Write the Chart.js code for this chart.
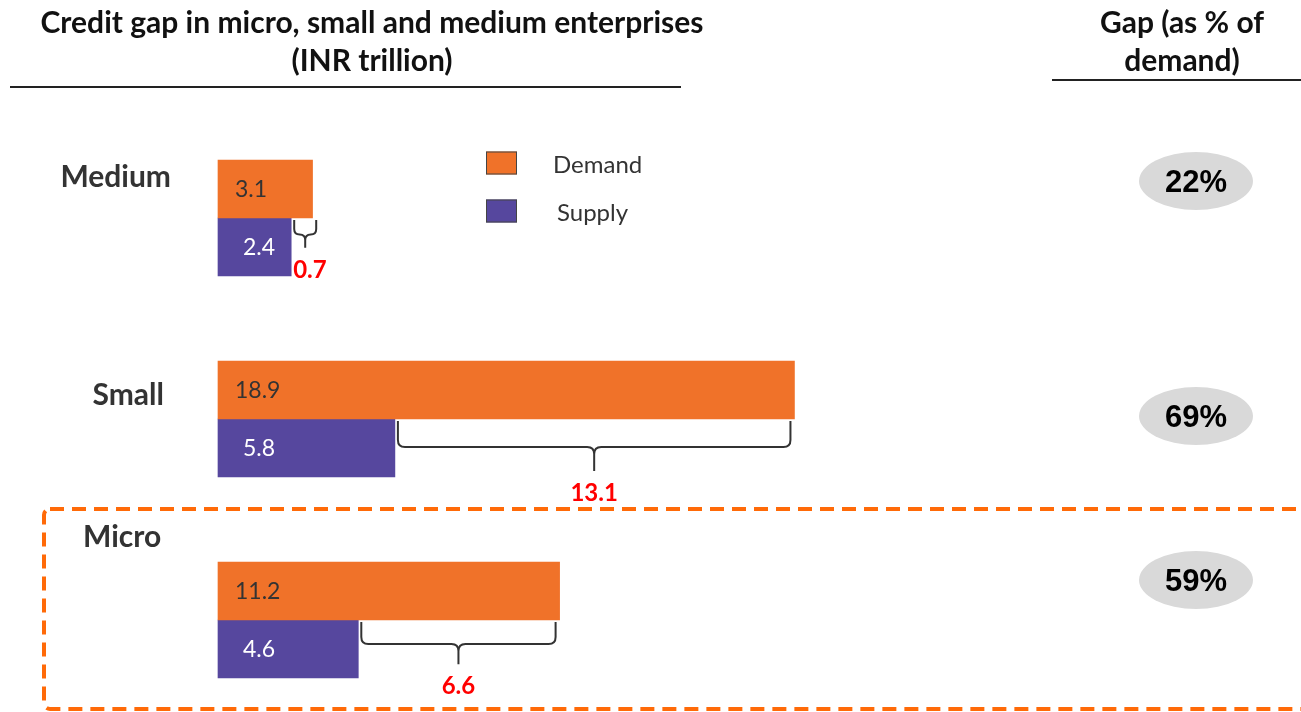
<!DOCTYPE html>
<html>
<head>
<meta charset="utf-8">
<script src="https://cdn.jsdelivr.net/npm/chart.js@4.4.0/dist/chart.umd.min.js"></script>
<style>
    body { margin: 0; background: #fff; }
    #wrap { position: relative; width: 1301px; height: 712px; }
</style>
</head>
<body>
<div id="wrap"><canvas id="grafico"></canvas></div>
<script>
    // data (INR trillion)
    var categories = ['Medium', 'Small', 'Micro'];
    var demand = [3.1, 18.9, 11.2];
    var supply = [2.4, 5.8, 4.6];
    var gap = [0.7, 13.1, 6.6];
    var gapPct = ['22%', '69%', '59%'];
    var seriesNames = ['Demand', 'Supply'];

    // layout bits that are not data
    var orange = '#F07229';
    var purple = '#56479E';
    var catLabelPos = [
        { x: 171, y: 177, align: 'right' },
        { x: 164, y: 395, align: 'right' },
        { x: 83, y: 537, align: 'left' }
    ];
    var pctY = [181, 416, 580];

    function brace(ctx, x1, x2, top, depth) {
        var cx = (x1 + x2) / 2;
        var mid = top + depth * 0.52;
        var tip = top + depth;
        var r = Math.min(7, (x2 - x1) / 4);
        ctx.beginPath();
        ctx.moveTo(x1, top);
        ctx.lineTo(x1, mid - r);
        ctx.quadraticCurveTo(x1, mid, x1 + r, mid);
        ctx.lineTo(cx - r, mid);
        ctx.quadraticCurveTo(cx, mid, cx, mid + r);
        ctx.lineTo(cx, tip);
        ctx.moveTo(cx, mid + r);
        ctx.quadraticCurveTo(cx, mid, cx + r, mid);
        ctx.lineTo(x2 - r, mid);
        ctx.quadraticCurveTo(x2, mid, x2, mid - r);
        ctx.lineTo(x2, top);
        ctx.stroke();
        return tip;
    }

    var extras = {
        id: 'extras',
        afterDatasetsDraw: function (chart) {
            var ctx = chart.ctx;
            var xs = chart.scales.x;
            var mDem = chart.getDatasetMeta(0);
            var mSup = chart.getDatasetMeta(1);
            ctx.save();

            // headers
            ctx.fillStyle = '#111';
            ctx.textAlign = 'center';
            ctx.textBaseline = 'middle';
            ctx.font = 'bold 30px Lato';
            ctx.fillText('Credit gap in micro, small and medium enterprises', 372, 23);
            ctx.fillText('(INR trillion)', 372, 61);
            ctx.fillText('Gap (as % of', 1182, 23);
            ctx.fillText('demand)', 1182, 61);
            ctx.strokeStyle = '#222';
            ctx.lineWidth = 2;
            ctx.beginPath();
            ctx.moveTo(10, 87); ctx.lineTo(681, 87);
            ctx.moveTo(1052, 80); ctx.lineTo(1301, 80);
            ctx.stroke();

            // category names
            ctx.fillStyle = '#333';
            ctx.font = 'bold 30px Lato';
            categories.forEach(function (c, i) {
                ctx.textAlign = catLabelPos[i].align;
                ctx.fillText(c, catLabelPos[i].x, catLabelPos[i].y);
            });

            // values inside bars
            ctx.font = '23px Lato';
            ctx.textAlign = 'left';
            mDem.data.forEach(function (bar, i) {
                ctx.fillStyle = '#333';
                ctx.fillText(demand[i].toFixed(1), bar.base + 17, bar.y + 1);
            });
            mSup.data.forEach(function (bar, i) {
                ctx.fillStyle = '#fff';
                ctx.fillText(supply[i].toFixed(1), bar.base + 25, bar.y + 1);
            });

            // braces and gap values
            ctx.strokeStyle = '#333';
            ctx.lineWidth = 2;
            for (var i = 0; i < categories.length; i++) {
                var sBar = mSup.data[i];
                var x1 = xs.getPixelForValue(supply[i]) + 3;
                var x2 = Math.max(xs.getPixelForValue(demand[i]) - 4, x1 + 22);
                var top = sBar.y - sBar.height / 2 + 2;
                var depth = 26 + Math.min(24, (x2 - x1) / 12);
                var tip = brace(ctx, x1, x2, top, depth);
                ctx.font = 'bold 24px Lato';
                ctx.fillStyle = '#FF0000';
                var txt = gap[i].toFixed(1);
                var w = ctx.measureText(txt).width;
                var lx = Math.max((x1 + x2) / 2 - w / 2, x1 - 1);
                ctx.textAlign = 'left';
                ctx.fillText(txt, lx, tip + 22);
            }

            // gap % ellipses
            for (var j = 0; j < gapPct.length; j++) {
                ctx.fillStyle = '#D9D9D9';
                ctx.beginPath();
                ctx.ellipse(1196, pctY[j], 57, 29, 0, 0, Math.PI * 2);
                ctx.fill();
                ctx.fillStyle = '#000';
                ctx.font = 'bold 31px "Liberation Sans"';
                ctx.textAlign = 'center';
                ctx.fillText(gapPct[j], 1196, pctY[j] + 2);
            }

            // legend
            var legendY = [163, 211];
            ctx.font = '24px Lato';
            ctx.textAlign = 'left';
            chart.data.datasets.forEach(function (ds, k) {
                ctx.fillStyle = ds.backgroundColor;
                ctx.fillRect(486, legendY[k] - 11.5, 31, 23);
                ctx.strokeStyle = '#444';
                ctx.lineWidth = 1;
                ctx.strokeRect(486.5, legendY[k] - 11, 30, 22);
                ctx.fillStyle = '#333';
                ctx.fillText(ds.label, k == 0 ? 553 : 557, legendY[k] + 2);
            });

            // dashed box around Micro
            ctx.strokeStyle = '#FF6A08';
            ctx.lineWidth = 4;
            ctx.setLineDash([14, 8]);
            ctx.beginPath();
            ctx.roundRect(44, 509, 1300, 200, 6);
            ctx.stroke();
            ctx.restore();
        }
    };

    var config = {
        type: 'bar',
        data: {
            labels: categories,
            datasets: [{
                label: seriesNames[0],
                data: demand,
                backgroundColor: orange,
                clip: false
            }, {
                label: seriesNames[1],
                data: supply,
                backgroundColor: purple,
                clip: false
            }]
        },
        options: {
            indexAxis: 'y',
            responsive: true,
            maintainAspectRatio: false,
            animation: false,
            barThickness: 58,
            layout: { padding: { left: 218, right: 168, top: 218, bottom: 92 } },
            scales: {
                x: { type: 'linear', min: 0, max: 30, display: false },
                y: { type: 'category', offset: false, display: false }
            },
            plugins: {
                legend: { display: false },
                tooltip: { enabled: false }
            }
        },
        plugins: [extras]
    };

    var myChart = new Chart(document.getElementById('grafico'), config);
</script>
</body>
</html>
